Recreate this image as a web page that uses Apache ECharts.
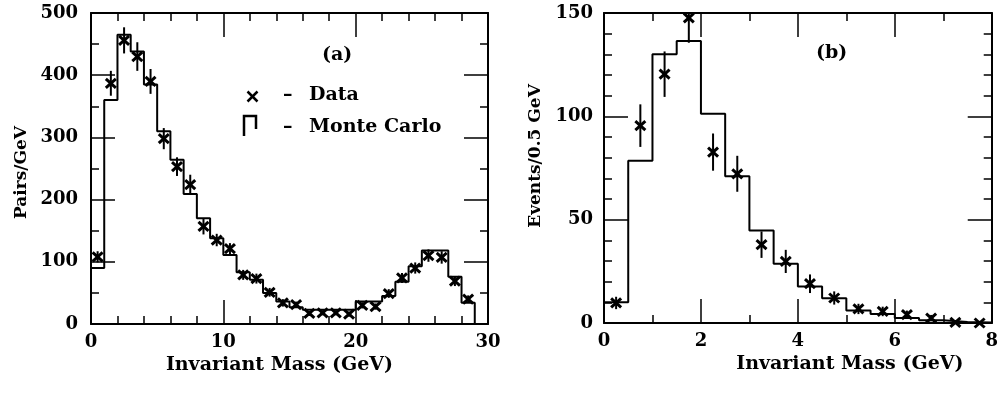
<!DOCTYPE html>
<html>
<head>
<meta charset="utf-8">
<script src="https://cdn.jsdelivr.net/npm/echarts@6/dist/echarts.min.js"></script>
<style>
html,body{margin:0;padding:0;background:#fff;}
#c{width:1001px;height:398px;}
</style>
</head>
<body>
<div id="c"></div>
<script>
// ---- Panel (a): pairs per GeV, 1 GeV bins ----
const centersA = [0.5,1.5,2.5,3.5,4.5,5.5,6.5,7.5,8.5,9.5,10.5,11.5,12.5,13.5,14.5,15.5,16.5,17.5,18.5,19.5,20.5,21.5,22.5,23.5,24.5,25.5,26.5,27.5,28.5];
const binWidthA = 1;
const mcA   = [90,360,465,438,385,310,264,209,170,138,111,83,71,50,36,27,23,23,23,23,36,36,45,68,93,118,118,76,34];
const dataA = [108,387,456,430,390,298,253,224,157,135,121,79,73,51,34,31,17,18,18,16,30,28,49,74,90,110,107,69,40];
const errA  = [9,20,21,23,20,17,15,16,13,10,9,8,8,7,6,5,4,4,4,4,5,5,7,8,9,10,10,8,6];
const xTicksA = [0,10,20,30];
const yTicksA = [0,100,200,300,400,500];

// ---- Panel (b): events per 0.5 GeV ----
const centersB = [0.25,0.75,1.25,1.75,2.25,2.75,3.25,3.75,4.25,4.75,5.25,5.75,6.25,6.75,7.25,7.75];
const binWidthB = 0.5;
const mcB   = [10,78.5,130,136.5,101.3,71,44.8,28.7,17.7,12,6,4.3,2.4,1.3,0.5,0.2];
const dataB = [9.7,95.5,120.4,147.6,82.7,72.2,37.9,29.8,19,12.1,6.8,5.6,4,2.4,0.3,0];
const errB  = [3,10.3,11,12,9,8.7,6.4,5.6,4.5,3.2,2.5,2.3,2,1.5,1,1];
const xTicksB = [0,2,4,6,8];
const yTicksB = [0,50,100,150];

const FONT = 'DejaVu Serif';
const BLACK = '#000';

function histData(centers, w, vals){
  const d = centers.map((c,i)=>[c - w/2, vals[i]]);
  d.push([centers[centers.length-1] + w/2, 0]);
  return d;
}
function ptsData(centers, vals, errs){
  return centers.map((c,i)=>[c, vals[i], errs[i]]);
}
function makeErrRender(ymax){
  return function(params, api){
    const x = api.value(0), y = api.value(1), e = api.value(2);
    const p = api.coord([x, y]);
    const t = api.coord([x, Math.min(y + e, ymax)]);
    const b = api.coord([x, Math.max(y - e, 0)]);
    const sx = 5, sy = 4.5;
    return {type:'group', children:[
      {type:'line', shape:{x1:p[0], y1:t[1], x2:p[0], y2:b[1]}, style:{stroke:BLACK, lineWidth:2}},
      {type:'line', shape:{x1:p[0]-sx, y1:p[1]-sy, x2:p[0]+sx, y2:p[1]+sy}, style:{stroke:BLACK, lineWidth:3}},
      {type:'line', shape:{x1:p[0]-sx, y1:p[1]+sy, x2:p[0]+sx, y2:p[1]-sy}, style:{stroke:BLACK, lineWidth:3}}
    ]};
  };
}

const labelStyle = {color:BLACK, fontFamily:FONT, fontWeight:'bold', fontSize:18};
const yNameStyle = {color:BLACK, fontFamily:FONT, fontWeight:'bold', fontSize:17};
const xNameStyle = {color:BLACK, fontFamily:FONT, fontWeight:'bold', fontSize:19};

function axis(base, opts){
  return Object.assign({
    type:'value',
    axisLine:{show:true, onZero:false, lineStyle:{color:BLACK, width:2}},
    axisTick:{show:true, inside:true, length:24, lineStyle:{color:BLACK, width:1.5}},
    splitLine:{show:false},
    axisLabel:Object.assign({show:true, margin:9}, labelStyle)
  }, base, opts);
}
function ax(ticks){ return {min:ticks[0], max:ticks[ticks.length-1], interval:ticks[1]-ticks[0]}; }
function minor(n){ return {show:true, splitNumber:n, length:8, lineStyle:{color:BLACK, width:1.5}}; }

const chart = echarts.init(document.getElementById('c'), null, {renderer:'canvas'});
chart.setOption({
  animation:false,
  backgroundColor:'#fff',
  grid:[
    {left:91, top:13, width:397, height:311},
    {left:604, top:13, width:396, height:310}
  ],
  xAxis:[
    axis(ax(xTicksA), {gridIndex:0, position:'bottom', minorTick:minor(5),
      name:'Invariant Mass (GeV)', nameLocation:'middle', nameGap:27,
      nameTextStyle:Object.assign({padding:[0,20,0,0]}, xNameStyle)}),
    axis(ax(xTicksA), {gridIndex:0, position:'top', axisLabel:{show:false}, minorTick:minor(5)}),
    axis(ax(xTicksB), {gridIndex:1, position:'bottom', minorTick:minor(2),
      name:'Invariant Mass (GeV)', nameLocation:'middle', nameGap:27,
      nameTextStyle:Object.assign({padding:[0,0,0,104]}, xNameStyle)}),
    axis(ax(xTicksB), {gridIndex:1, position:'top', axisLabel:{show:false}, minorTick:minor(2)})
  ],
  yAxis:[
    axis(ax(yTicksA), {gridIndex:0, position:'left', axisLabel:Object.assign({show:true, margin:13}, labelStyle), minorTick:minor(2),
      name:'Pairs/GeV', nameLocation:'middle', nameGap:61, nameTextStyle:Object.assign({padding:[0,8,0,0]}, yNameStyle)}),
    axis(ax(yTicksA), {gridIndex:0, position:'right', axisLabel:{show:false}, minorTick:minor(2)}),
    axis(ax(yTicksB), {gridIndex:1, position:'left', axisLabel:Object.assign({show:true, margin:11}, labelStyle), minorTick:minor(5),
      name:'Events/0.5 GeV', nameLocation:'middle', nameGap:60, nameTextStyle:Object.assign({padding:[0,0,0,24]}, yNameStyle)}),
    axis(ax(yTicksB), {gridIndex:1, position:'right', axisLabel:{show:false}, minorTick:minor(5)})
  ],
  series:[
    {type:'line', xAxisIndex:0, yAxisIndex:0, step:'end', symbol:'none', data:histData(centersA, binWidthA, mcA),
      lineStyle:{color:BLACK, width:2}},
    {type:'custom', xAxisIndex:0, yAxisIndex:0, renderItem:makeErrRender(yTicksA[yTicksA.length-1]), data:ptsData(centersA, dataA, errA)},
    {type:'line', xAxisIndex:2, yAxisIndex:2, step:'end', symbol:'none', data:histData(centersB, binWidthB, mcB),
      lineStyle:{color:BLACK, width:2}},
    {type:'custom', xAxisIndex:2, yAxisIndex:2, renderItem:makeErrRender(yTicksB[yTicksB.length-1]), data:ptsData(centersB, dataB, errB)}
  ],
  graphic:[
    {type:'text', left:322, top:46, style:{text:'(a)', fill:BLACK, font:'bold 19px "DejaVu Serif"'}},
    {type:'text', left:816, top:44, style:{text:'(b)', fill:BLACK, font:'bold 19px "DejaVu Serif"'}},
    {type:'group', left:245, top:89, children:[
      {type:'line', shape:{x1:0,y1:0,x2:10,y2:10}, style:{stroke:BLACK, lineWidth:2.5}},
      {type:'line', shape:{x1:0,y1:10,x2:10,y2:0}, style:{stroke:BLACK, lineWidth:2.5}}
    ]},
    {type:'polyline', shape:{points:[[244,136],[244,116],[256,116],[256,129]]}, style:{stroke:BLACK, lineWidth:2.5, fill:null}},
    {type:'text', left:283, top:86, style:{text:'–', fill:BLACK, font:'bold 19px "DejaVu Serif"'}},
    {type:'text', left:283, top:118, style:{text:'–', fill:BLACK, font:'bold 19px "DejaVu Serif"'}},
    {type:'text', left:309, top:86, style:{text:'Data', fill:BLACK, font:'bold 19px "DejaVu Serif"'}},
    {type:'text', left:309, top:118, style:{text:'Monte Carlo', fill:BLACK, font:'bold 19px "DejaVu Serif"'}}
  ]
});
</script>
</body>
</html>
